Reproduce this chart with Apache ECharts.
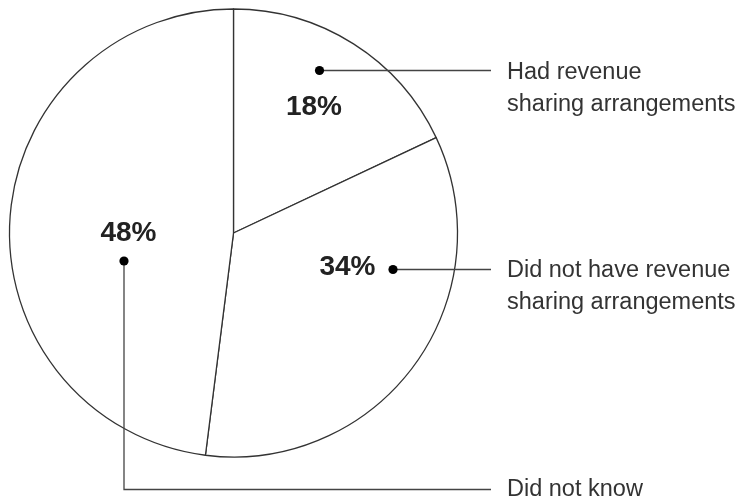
<!DOCTYPE html>
<html>
<head>
<meta charset="utf-8">
<script src="https://cdn.jsdelivr.net/npm/echarts@6/dist/echarts.min.js"></script>
<style>
  html, body { margin: 0; padding: 0; background: #fff; }
  #chart { width: 742px; height: 502px; }
</style>
</head>
<body>
<div id="chart"></div>
<script>
// 数据
const categories = [
  'Had revenue\nsharing arrangements',
  'Did not have revenue\nsharing arrangements',
  'Did not know'
];
const shares = [18, 34, 48];

const lineColor = '#444';
const fontName = '"Liberation Sans", Arial, sans-serif';
const nameFont = '23.5px ' + fontName;

// 百分比标签的位置（饼图内部）
const pctPos = [[314, 107], [347.5, 267], [128.5, 233.5]];

let chart = echarts.init(document.getElementById('chart'), null, { renderer: 'canvas' });

chart.setOption({
  animation: false,
  backgroundColor: '#fff',
  series: [{
    type: 'pie',
    center: [233.5, 233],
    radius: 224,
    startAngle: 90,
    clockwise: true,
    silent: true,
    z: 1,
    emphasis: { disabled: true },
    itemStyle: { color: '#fff', borderColor: '#333', borderWidth: 1.3 },
    label: {
      show: true,
      position: 'inside',
      formatter: '{c}%',
      color: '#222',
      fontSize: 28,
      fontWeight: 'bold',
      fontFamily: fontName
    },
    labelLine: { show: false },
    labelLayout: function (params) {
      let p = pctPos[params.dataIndex];
      return { x: p[0], y: p[1], align: 'center', verticalAlign: 'middle' };
    },
    data: categories.map((name, i) => ({ name: name, value: shares[i] }))
  }],
  // 引线、圆点和说明文字（放在饼图上面）
  graphic: {
    elements: [
      { type: 'polyline', z: 100, shape: { points: [[319.5, 70.5], [491, 70.5]] }, style: { stroke: lineColor, lineWidth: 1.3, fill: null } },
      { type: 'polyline', z: 100, shape: { points: [[393, 269.5], [491, 269.5]] }, style: { stroke: lineColor, lineWidth: 1.3, fill: null } },
      { type: 'polyline', z: 100, shape: { points: [[124, 261], [124, 489.5], [491, 489.5]] }, style: { stroke: lineColor, lineWidth: 1.3, fill: null } },
      { type: 'circle', z: 101, shape: { cx: 319.5, cy: 70.5, r: 4.6 }, style: { fill: '#000' } },
      { type: 'circle', z: 101, shape: { cx: 393, cy: 269.5, r: 4.6 }, style: { fill: '#000' } },
      { type: 'circle', z: 101, shape: { cx: 124, cy: 261, r: 4.6 }, style: { fill: '#000' } },
      { type: 'text', z: 100, x: 507, y: 56.5, style: { text: categories[0], fill: '#333', font: nameFont, lineHeight: 32, verticalAlign: 'top' } },
      { type: 'text', z: 100, x: 507, y: 255, style: { text: categories[1], fill: '#333', font: nameFont, lineHeight: 32, verticalAlign: 'top' } },
      { type: 'text', z: 100, x: 507, y: 490, style: { text: categories[2], fill: '#333', font: nameFont, verticalAlign: 'middle' } }
    ]
  }
});
</script>
</body>
</html>
